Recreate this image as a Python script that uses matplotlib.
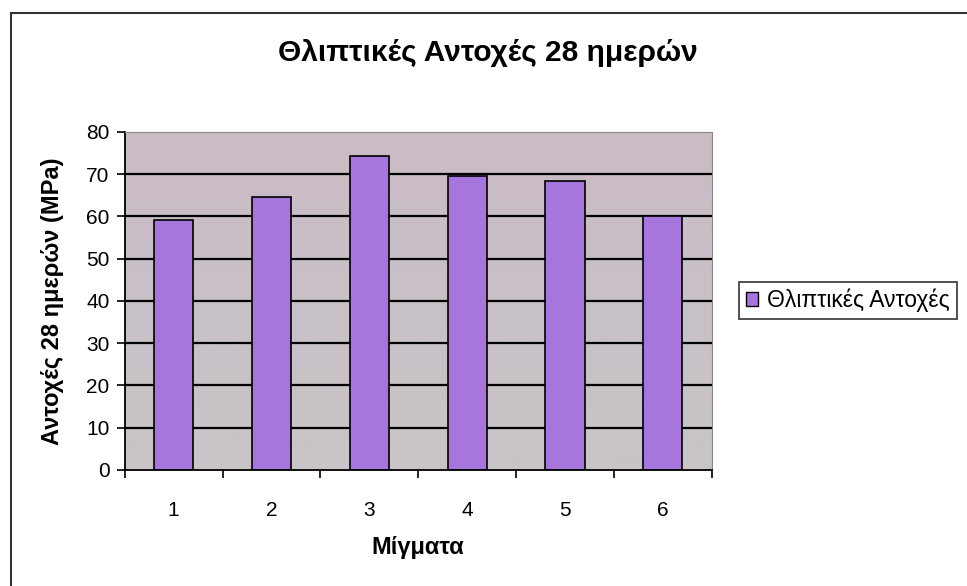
import numpy as np
import matplotlib
matplotlib.use("Agg")
from matplotlib import pyplot as plt
from matplotlib.patches import Patch
from matplotlib.lines import Line2D

plt.rcParams['font.family'] = ['Liberation Sans', 'DejaVu Sans']

mixes = ['1', '2', '3', '4', '5', '6']
strength = [59.2, 64.6, 74.2, 69.5, 68.3, 60.0]
series_name = 'Θλιπτικές Αντοχές'

fig = plt.figure(figsize=(9.67, 5.86), dpi=100)
ax = fig.add_axes([0.129, 0.198, 0.607, 0.577])

# soft grey/pink fill behind the bars
grad = np.linspace(0, 1, 256).reshape(-1, 1)
cmap = matplotlib.colors.LinearSegmentedColormap.from_list(
    'bg', ['#c8c5c7', '#c8c0c8', '#cbbbc5'])
ax.imshow(grad, extent=[0.5, 6.5, 0, 80], aspect='auto', cmap=cmap,
          origin='lower', zorder=0)

x = np.arange(1, len(mixes) + 1)
for v in range(10, 80, 10):
    ax.axhline(v, color='black', lw=1.6, zorder=1)
ax.bar(x, strength, width=0.4, color='#a676dd', edgecolor='black',
       linewidth=1.2, zorder=2)

ax.set_xlim(0.5, 6.5)
ax.set_ylim(0, 80)
ax.set_yticks(range(0, 81, 10))
ax.set_xticks(x)
ax.set_xticklabels(mixes)
ax.set_xticks(np.arange(0.5, 7, 1), minor=True)
ax.tick_params(axis='x', which='major', length=0, pad=22, labelsize=15)
ax.tick_params(axis='x', which='minor', length=6, width=1.2, direction='out')
ax.tick_params(axis='y', length=6, width=1.2, direction='out',
               labelsize=15, pad=5)
for side in ['top', 'right']:
    ax.spines[side].set_color('#888888')
    ax.spines[side].set_linewidth(0.8)
for side in ['left', 'bottom']:
    ax.spines[side].set_linewidth(1.3)

ax.set_xlabel('Μίγματα', fontsize=17, fontweight='bold', labelpad=12)
ax.set_ylabel('Αντοχές 28 ημερών (MPa)', fontsize=17, fontweight='bold',
              labelpad=16)
fig.text(0.505, 0.91, 'Θλιπτικές Αντοχές 28 ημερών', ha='center',
         va='center', fontsize=21.5, fontweight='bold')

handle = Patch(facecolor='#a676dd', edgecolor='black', linewidth=1.0)
leg = fig.legend([handle], [series_name], loc='center left',
                 bbox_to_anchor=(0.752, 0.487), fontsize=16.5, frameon=True,
                 fancybox=False, edgecolor='black', handlelength=0.55,
                 handleheight=0.55, handletextpad=0.4, borderpad=0.3)
leg.get_frame().set_linewidth(1.2)

# outer chart frame
fig.add_artist(Line2D([0.0114, 0.0114], [0, 0.978], color='#333333',
                      lw=1.5, transform=fig.transFigure))
fig.add_artist(Line2D([0.0114, 1.0], [0.978, 0.978], color='#333333',
                      lw=1.5, transform=fig.transFigure))

fig.savefig('out.png', dpi=100)
